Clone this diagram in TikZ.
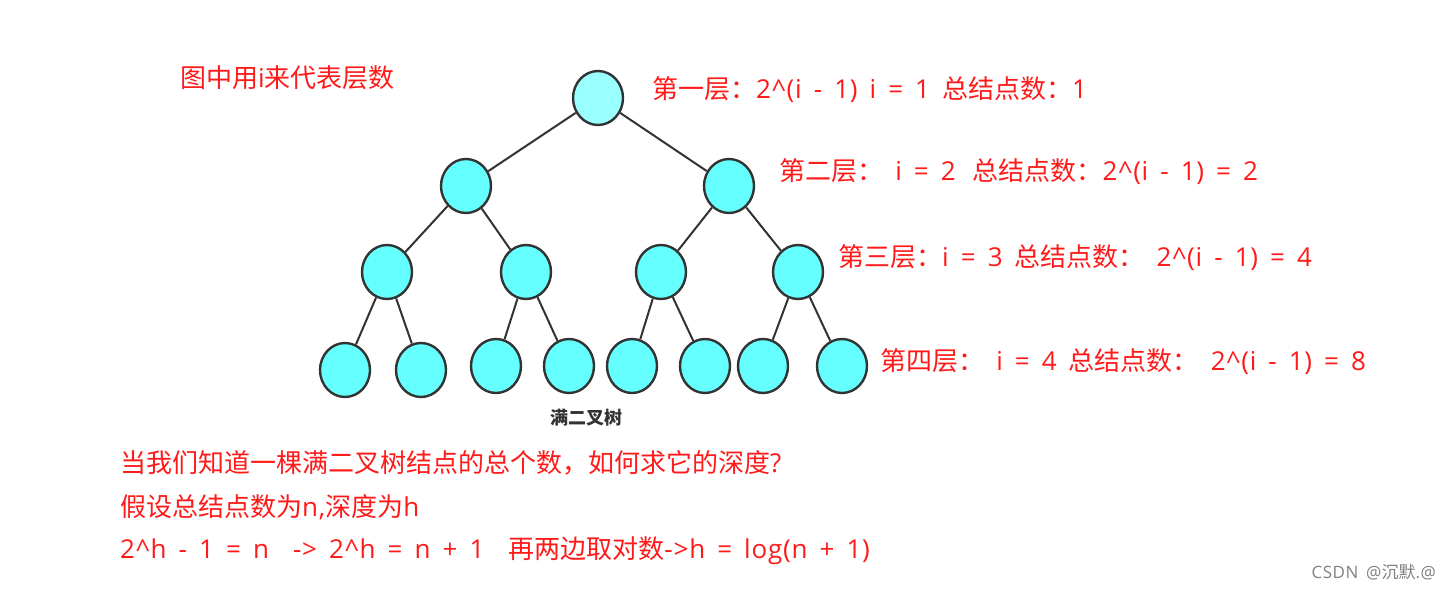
\documentclass[tikz,border=0pt]{standalone}
\usepackage{fontspec}
\setmainfont{Open Sans}[WordSpace=1.6, LetterSpace=3]
\newfontfamily\cjk{Noto Sans CJK SC}
\usepackage{tikz}
\usetikzlibrary{shapes.geometric,positioning}
\definecolor{nodecyan}{HTML}{66FFFF}
\definecolor{rootcyan}{HTML}{99FFFF}
\definecolor{edgegray}{HTML}{333333}
\definecolor{notered}{HTML}{FF1A1A}
\newcommand{\zh}[1]{{\cjk #1}}

\begin{document}
\begin{tikzpicture}[
    x=1pt, y=-1pt,
    tnode/.style={
        draw=edgegray,
        ellipse,
        line width=2.4pt,
        fill=nodecyan,
        minimum width=50pt,
        minimum height=54pt,
        inner sep=0pt
    },
    edge/.style={draw=edgegray, line width=2pt},
    note/.style={
        anchor=west,
        inner sep=0pt,
        text=notered,
        font=\fontsize{26}{30}\selectfont
    }
]
    \useasboundingbox (0,0) rectangle (1450,591);
    %% 第一层
    \node[tnode, fill=rootcyan] (r) at (598,98) {};
    %% 第二层
    \node[tnode] (a) at (466,186) {};
    \node[tnode] (b) at (729,186) {};
    %% 第三层
    \node[tnode] (aa) at (387,272) {};
    \node[tnode] (ab) at (526,272) {};
    \node[tnode] (ba) at (661,272) {};
    \node[tnode] (bb) at (798,272) {};
    %% 第四层
    \node[tnode] (aaa) at (345,370) {};
    \node[tnode] (aab) at (421,370) {};
    \node[tnode] (aba) at (496,366) {};
    \node[tnode] (abb) at (569,366) {};
    \node[tnode] (baa) at (632,366) {};
    \node[tnode] (bab) at (705,366) {};
    \node[tnode] (bba) at (763,366) {};
    \node[tnode] (bbb) at (842,366) {};

    %% 连线
    \draw[edge] (r) -- (a);
    \draw[edge] (r) -- (b);
    \draw[edge] (a) -- (aa);
    \draw[edge] (a) -- (ab);
    \draw[edge] (b) -- (ba);
    \draw[edge] (b) -- (bb);
    \draw[edge] (aa) -- (aaa);
    \draw[edge] (aa) -- (aab);
    \draw[edge] (ab) -- (aba);
    \draw[edge] (ab) -- (abb);
    \draw[edge] (ba) -- (baa);
    \draw[edge] (ba) -- (bab);
    \draw[edge] (bb) -- (bba);
    \draw[edge] (bb) -- (bbb);

    %% 标题
    \node[inner sep=0pt, text=edgegray, font=\fontsize{18}{20}\selectfont\cjk\bfseries]
        (title) at (586,418) {满二叉树};

    %% 层数说明
    \node[note] (hint) at (180,78) {\zh{图中用}i\zh{来代表层数}};
    \node[note] (lv1) at (652,90) {\zh{第一层：}2\textasciicircum(i - 1) i = 1 \zh{总结点数：}1};
    \node[note] (lv2) at (779,172) {\zh{第二层：} i = 2 \hspace{5pt}\zh{总结点数：}2\textasciicircum(i - 1) = 2};
    \node[note] (lv3) at (838,258) {\zh{第三层：}i = 3 \zh{总结点数：} 2\textasciicircum(i - 1) = 4};
    \node[note] (lv4) at (880,362) {\zh{第四层：} i = 4 \zh{总结点数：} 2\textasciicircum(i - 1) = 8};

    %% 深度推导
    \node[note] (q) at (120,463) {\zh{当我们知道一棵满二叉树结点的总个数，如何求它的深度}?};
    \node[note] (set) at (120,507) {\zh{假设总结点数为}n,\zh{深度为}h};
    \node[note] (eq) at (120,551) {2\textasciicircum h - 1 = n\ \ -> 2\textasciicircum h = n + 1\ \ \zh{再两边取对数}->h = log(n + 1)};

    %% 水印
    \node[anchor=east, inner sep=0pt, text=gray, font=\fontsize{17}{19}\selectfont]
        (mark) at (1436,572) {CSDN @\zh{沉默}.@};
\end{tikzpicture}
\end{document}
